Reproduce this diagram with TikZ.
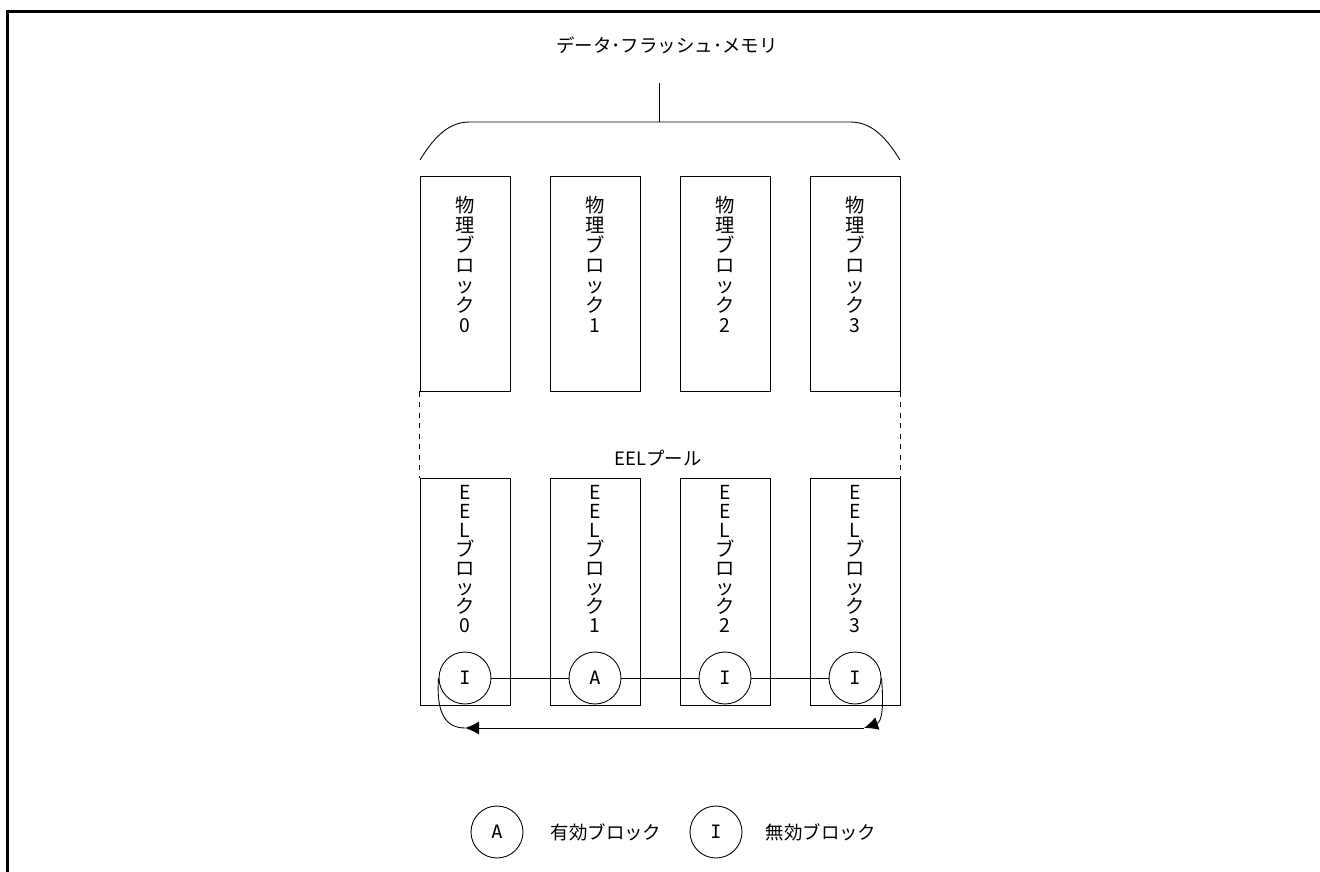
\documentclass[tikz,border=0pt]{standalone}
\usepackage{fontspec}
\newfontfamily\jpfont{Noto Sans CJK JP}
\newfontfamily\letterfont{DejaVu Sans Mono}
\usetikzlibrary{positioning, arrows.meta}

\begin{document}
\begin{tikzpicture}[x=0.02cm, y=-0.02cm,
  blk/.style={draw, line width=0.5pt, minimum width=1.8cm, inner sep=0pt},
  vtxt/.style={anchor=north, align=center, inner sep=0pt, font=\jpfont\fontsize{11}{11.4}\selectfont},
  st/.style={draw, circle, line width=0.5pt, minimum size=1.04cm, inner sep=0pt, font=\letterfont\fontsize{10.5}{12}\selectfont},
  lbl/.style={font=\jpfont\fontsize{10.5}{12}\selectfont, inner sep=0pt},
  tip/.style={-{Latex[length=0.28cm,width=0.26cm]}}]
  \useasboundingbox (0,0) rectangle (1320,872);
  \draw[line width=1.7pt] (1320,11.5) -- (7.5,11.5) -- (7.5,872);

  \node[lbl] (title) at (667,45) {データ･フラッシュ･メモリ};
  \coordinate (stem) at (659,83);
  \coordinate (top) at (659,122);
  \draw[line width=0.5pt] (420,160) .. controls (437,132) and (452,122) .. (470,122) -- (850,122) .. controls (868,122) and (883,132) .. (900,160);
  \draw[line width=0.5pt] (stem) -- (top);

  \foreach \i in {0,...,3} {
    \node[blk, minimum height=4.3cm] (p\i) at ({465+130*\i},283.5) {};
    \node[vtxt] (pt\i) at ({465+130*\i},196) {物\\理\\ブ\\ロ\\ッ\\ク\\\i};
    \node[blk, minimum height=4.54cm] (e\i) at ({465+130*\i},591.5) {};
    \node[vtxt, font=\jpfont\fontsize{11}{10.8}\selectfont] (et\i) at ({465+130*\i},485) {E\\E\\L\\ブ\\ロ\\ッ\\ク\\\i};
  }
  \node[lbl] (pool) at (658,458) {EELプール};
  \draw[dashed, line width=0.6pt] (p0.south west) -- (e0.north west);
  \draw[dashed, line width=0.6pt] (p3.south east) -- (e3.north east);

  \node[st] (s0) at (465,678) {I};
  \node[st] (s1) at (595,678) {A};
  \node[st] (s2) at (725,678) {I};
  \node[st] (s3) at (855,678) {I};
  \draw[line width=0.5pt] (s0) -- (s1);
  \draw[line width=0.5pt] (s1) -- (s2);
  \draw[line width=0.5pt] (s2) -- (s3);

  \coordinate (r) at (864,728);
  \coordinate (l) at (465,728);
  \draw[tip, line width=0.5pt] (s3.east) .. controls (884,705) and (882,722) .. (r);
  \draw[tip, line width=0.5pt] (r) -- (l);
  \draw[line width=0.5pt] (l) .. controls (445,728) and (436,712) .. (s0.west);

  % legend
  \node[st] (la) at (497,832) {A};
  \node[lbl] (ta) at (606,832) {有効ブロック};
  \node[st] (li) at (716,832) {I};
  \node[lbl] (ti) at (821,832) {無効ブロック};
\end{tikzpicture}
\end{document}
